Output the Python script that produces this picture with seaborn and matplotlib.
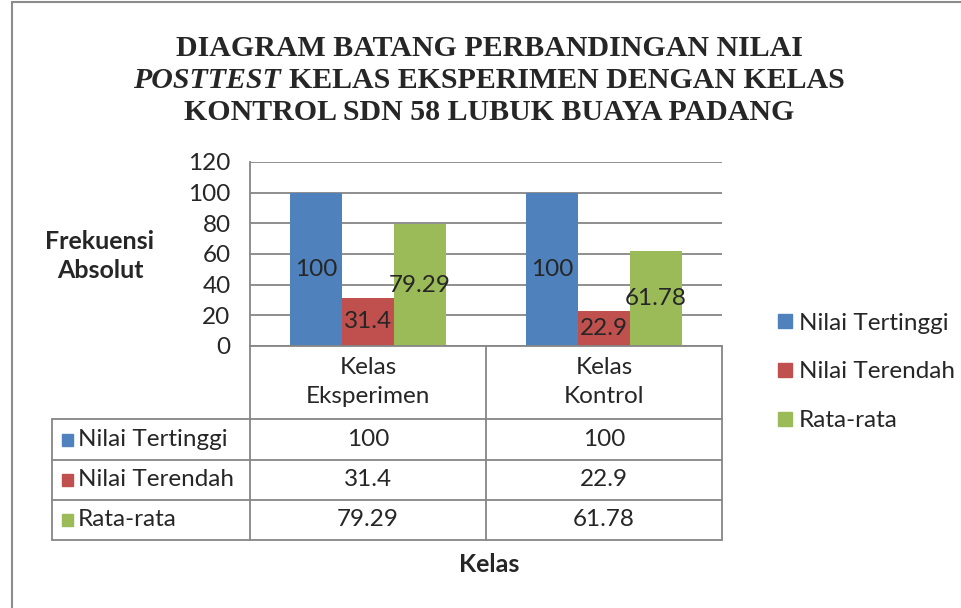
import matplotlib
matplotlib.use("Agg")

import pandas as pd
import matplotlib.pyplot as plt
import seaborn as sns
from matplotlib.lines import Line2D
from matplotlib.patches import Rectangle
from matplotlib.transforms import blended_transform_factory

# data
classes = ["Kelas\nEksperimen", "Kelas\nKontrol"]
series = ["Nilai Tertinggi", "Nilai Terendah", "Rata-rata"]
nilai_tertinggi = [100, 100]
nilai_terendah = [31.4, 22.9]
rata_rata = [79.29, 61.78]
y_ticks = [0, 20, 40, 60, 80, 100, 120]

colors = ["#4F81BD", "#C0504D", "#9BBB59"]
values = [nilai_tertinggi, nilai_terendah, rata_rata]

df = pd.DataFrame({
    "kelas": classes * 3,
    "seri": [s for s in series for _ in classes],
    "nilai": [v for vals in values for v in vals],
})

sns.set_style("white")
plt.rcParams["font.family"] = ["Lato", "DejaVu Sans"]

W, H = 962, 608
FS = 17.5   # regular text
FSB = 18    # bold axis titles
GRID = "#868686"


def fx(x):
    return x / W


def fy(y):
    return 1 - y / H


fig = plt.figure(figsize=(W / 100, H / 100), dpi=100)

# outer frame
fig.add_artist(Rectangle((fx(12), fy(640)), fx(980), fy(2) - fy(640),
                         transform=fig.transFigure, fill=False,
                         edgecolor="#8c8c8c", lw=1.5))

ax = fig.add_axes([fx(250), fy(346), fx(722) - fx(250), fy(162) - fy(346)])
sns.barplot(data=df, x="kelas", y="nilai", hue="seri", hue_order=series,
            palette=colors, width=0.66, gap=0, saturation=1, ax=ax,
            legend=False, linewidth=0, edgecolor="none")

for cont in ax.containers:
    ax.bar_label(cont, fmt="%g", label_type="center", fontsize=FS)

ax.set_ylim(0, 120)
ax.set_xlim(-0.5, 1.5)
ax.set_yticks(y_ticks)
ax.set_xticks([])
ax.tick_params(axis="y", length=0, pad=14, labelsize=FS)
ax.yaxis.grid(True, color=GRID, lw=1.3)
ax.set_axisbelow(True)
ax.set_xlabel("")
ax.set_ylabel("")
for side in ["top", "right", "bottom"]:
    ax.spines[side].set_visible(False)
ax.spines["left"].set_color(GRID)
ax.spines["left"].set_linewidth(1.3)

# data table under the plot
tr = blended_transform_factory(ax.transData, fig.transFigure)
row_lines = [346, 419, 460, 500, 540]


def hline(x0, x1, y):
    fig.add_artist(Line2D([fx(x0), fx(x1)], [fy(y), fy(y)],
                          transform=fig.transFigure, color=GRID, lw=1.3))


def vline(x, y0, y1):
    fig.add_artist(Line2D([fx(x), fx(x)], [fy(y0), fy(y1)],
                          transform=fig.transFigure, color=GRID, lw=1.3))


hline(250, 722, 346)
for y in row_lines[1:]:
    hline(52, 722, y)
vline(250, 346, 540)
vline(486, 346, 540)
vline(722, 346, 540)
vline(52, 419, 540)

for i, name in enumerate(classes):
    fig.text(i, fy(382), name, transform=tr, ha="center", va="center",
             fontsize=FS, linespacing=1.45)

for r, (name, vals, c) in enumerate(zip(series, values, colors)):
    yc = (row_lines[r + 1] + row_lines[r + 2]) / 2
    fig.add_artist(Rectangle((fx(62), fy(yc + 6)), fx(11), fy(yc - 6) - fy(yc + 6),
                             transform=fig.transFigure, color=c))
    fig.text(fx(78), fy(yc), name, ha="left", va="center", fontsize=FS)
    for i, v in enumerate(vals):
        fig.text(i, fy(yc), f"{v:g}", transform=tr, ha="center", va="center",
                 fontsize=FS)

# axis titles
fig.text(fx(100), fy(256), "Frekuensi\nAbsolut", ha="center", va="center",
         fontsize=FSB, fontweight="bold", linespacing=1.35)
fig.text(fx(489), fy(565), "Kelas", ha="center", va="center",
         fontsize=FSB, fontweight="bold")

# legend
handles = [Rectangle((0, 0), 1, 1, color=c) for c in colors]
fig.legend(handles, series, loc="center left",
           bbox_to_anchor=(fx(766), fy(372)), frameon=False,
           fontsize=FS, handlelength=0.55, handleheight=0.55,
           handletextpad=0.3, labelspacing=1.15, borderpad=0)

# title, second line mixes italic and bold
tfont = dict(family="Liberation Serif", fontweight="bold", fontsize=21.5)
fig.text(fx(489), fy(48), "DIAGRAM BATANG PERBANDINGAN NILAI",
         ha="center", va="center", **tfont)
fig.text(fx(489), fy(113), "KONTROL SDN 58 LUBUK BUAYA PADANG",
         ha="center", va="center", **tfont)

r = fig.canvas.get_renderer()
t1 = fig.text(0, fy(81), "POSTTEST ", va="center", style="italic", **tfont)
t2 = fig.text(0, fy(81), "KELAS EKSPERIMEN DENGAN KELAS", va="center", **tfont)
w1 = t1.get_window_extent(r).width / W
w2 = t2.get_window_extent(r).width / W
x0 = fx(489) - (w1 + w2) / 2
t1.set_x(x0)
t2.set_x(x0 + w1)

fig.savefig("out.png", dpi=100)
plt.close(fig)
